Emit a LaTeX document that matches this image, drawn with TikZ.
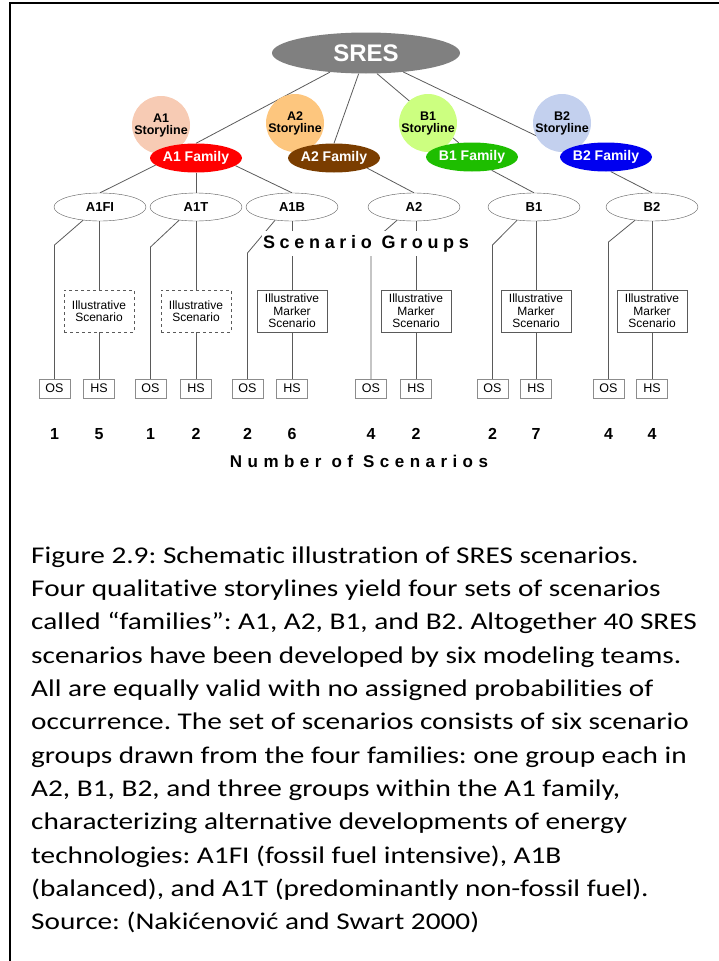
\documentclass[tikz,border=0pt]{standalone}
\usepackage{fontspec}
\setmainfont{Liberation Sans}
\newfontfamily\capfont[FakeStretch=1.22,Ligatures=NoCommon]{Carlito}
\newfontfamily\spacedfont[LetterSpace=26]{Liberation Sans}
\newfontfamily\widefont[LetterSpace=32]{Liberation Sans}
\usetikzlibrary{shapes.geometric,backgrounds}
\frenchspacing

\definecolor{sresgray}{HTML}{808080}
\definecolor{a1story}{HTML}{F7CBB4}
\definecolor{a2story}{HTML}{FDC67E}
\definecolor{b1story}{HTML}{CCFF80}
\definecolor{b2story}{HTML}{C3D0EE}
\definecolor{a1red}{HTML}{FF0000}
\definecolor{a2brown}{HTML}{7A3D00}
\definecolor{b1green}{HTML}{1EBE00}
\definecolor{b2blue}{HTML}{0000F0}
\definecolor{linegray}{HTML}{5A5A5A}
\definecolor{boxgray}{HTML}{8C8C8C}

\tikzset{
  sres/.style={ellipse, fill=sresgray, text=white, inner sep=0pt,
    minimum width=188pt, minimum height=41pt,
    font=\bfseries\fontsize{24}{24}\selectfont},
  story/.style={ellipse, inner sep=-10pt, minimum width=58pt, minimum height=58pt,
    align=center, font=\bfseries\fontsize{12.5}{12}\selectfont},
  family/.style={ellipse, inner sep=-4pt, minimum width=92pt, minimum height=29pt,
    text=white, font=\bfseries\fontsize{14}{14}\selectfont},
  group/.style={ellipse, draw=linegray, fill=white, inner sep=0pt,
    minimum width=92pt, minimum height=28pt, font=\bfseries\fontsize{13}{13}\selectfont},
  marker/.style={rectangle, draw=linegray, fill=white, inner sep=0pt,
    minimum width=70pt, minimum height=42pt, align=center,
    font=\fontsize{12}{12.5}\selectfont},
  illus/.style={marker, dashed},
  runbox/.style={rectangle, draw=boxgray, fill=white, inner sep=0pt,
    minimum width=31pt, minimum height=19pt, font=\fontsize{12.5}{12.5}\selectfont},
  count/.style={anchor=base, font=\bfseries\fontsize{16}{16}\selectfont},
  link/.style={draw=linegray, line width=0.8pt},
  caption/.style={anchor=base west, inner sep=0pt, font=\capfont\fontsize{24}{24}\selectfont}
}

\begin{document}
\begin{tikzpicture}[x=1pt,y=-1pt]
  \useasboundingbox (0,0) rectangle (719,961);
  \draw[line width=1.5pt] (10,961) -- (10,3) -- (719,3);

  % top of the tree
  \node[sres] (sres) at (366,53) {SRES};
  \node[story, fill=a1story] (a1story) at (161,125) {A1\\Storyline};
  \node[story, fill=a2story] (a2story) at (295,123) {A2\\Storyline};
  \node[story, fill=b1story] (b1story) at (428,123) {B1\\Storyline};
  \node[story, fill=b2story] (b2story) at (562,123) {B2\\Storyline};
  \node[family, fill=a1red] (a1fam) at (196,158) {A1 Family};
  \node[family, fill=a2brown] (a2fam) at (334,158) {A2 Family};
  \node[family, fill=b1green] (b1fam) at (472,157) {B1 Family};
  \node[family, fill=b2blue] (b2fam) at (606,157) {B2 Family};

  % scenario groups
  \node[group] (a1fi) at (100,207) {A1FI};
  \node[group] (a1t) at (196,207) {A1T};
  \node[group] (a1b) at (292,207) {A1B};
  \node[group] (a2) at (414,207) {A2};
  \node[group] (b1) at (534,207) {B1};
  \node[group] (b2) at (652,207) {B2};

  \begin{pgfonlayer}{background}
    \draw[link] (sres) -- (a1fam.north);
    \draw[link] (sres) -- (a2fam.north);
    \draw[link] (sres.-62) -- (b1fam.133);
    \draw[link] (sres.-27) -- (b2fam.170);
    \draw[link] (a1fam.190) -- (a1fi.north);
    \draw[link] (a1fam.south) -- (a1t.north);
    \draw[link] (a1fam.-11) -- (a1b.north);
    \draw[link] (a2fam.-17) -- (a2.north);
    \draw[link] (b1fam.-34) -- (b1.north);
    \draw[link] (b2fam.-72) -- (b2.north);
  \end{pgfonlayer}

  % one column per group: illustrative box, OS/HS and counts
  \foreach \g/\os/\hs/\bend/\kind/\txt/\nos/\nhs in {
      a1fi/54.5/99/245/illus/{Illustrative\\Scenario}/1/5,
      a1t/150.5/196/247/illus/{Illustrative\\Scenario}/1/2,
      a1b/247.5/292/253/marker/{Illustrative\\Marker\\Scenario}/2/6,
      a2/371/416/243/marker/{Illustrative\\Marker\\Scenario}/4/2,
      b1/492.5/536/245/marker/{Illustrative\\Marker\\Scenario}/2/7,
      b2/608.5/652/242/marker/{Illustrative\\Marker\\Scenario}/4/4}{
    \node[\kind] (box-\g) at (\hs,311) {\txt};
    \node[runbox] (os-\g) at (\os,388.5) {OS};
    \node[runbox] (hs-\g) at (\hs,388.5) {HS};
    \node[count] (nos-\g) at (\os,439) {\nos};
    \node[count] (nhs-\g) at (\hs,439) {\nhs};
    \begin{pgfonlayer}{background}
      \draw[link] (\g.218) -- (os-\g.north |- 0,\bend) -- (os-\g.north);
      \draw[link] (box-\g.north |- \g.south) -- (box-\g.north);
      \draw[link] (box-\g.south) -- (hs-\g.north);
    \end{pgfonlayer}
  }

  \node[anchor=base, fill=white, inner xsep=1pt, inner ysep=4pt,
    font=\spacedfont\bfseries\fontsize{18}{18}\selectfont] (grouplabel) at (366,248) {Scenario Groups};
  \node[anchor=base, inner sep=0pt,
    font=\widefont\bfseries\fontsize{17}{17}\selectfont] (countlabel) at (359,467) {Number of Scenarios};

  % caption
  \foreach \line [count=\i] in {
      {Figure 2.9: Schematic illustration of SRES scenarios.},
      {Four qualitative storylines yield four sets of scenarios},
      {called “families”: A1, A2, B1, and B2. Altogether 40 SRES},
      {scenarios have been developed by six modeling teams.},
      {All are equally valid with no assigned probabilities of},
      {occurrence. The set of scenarios consists of six scenario},
      {groups drawn from the four families: one group each in},
      {A2, B1, B2, and three groups within the A1 family,},
      {characterizing alternative developments of energy},
      {technologies: A1FI (fossil fuel intensive), A1B},
      {(balanced), and A1T (predominantly non-fossil fuel).},
      {Source: (Nakićenović and Swart 2000)}}
    \node[caption] (cap\i) at (31,{563+33.36*(\i-1)}) {\line};
\end{tikzpicture}
\end{document}
